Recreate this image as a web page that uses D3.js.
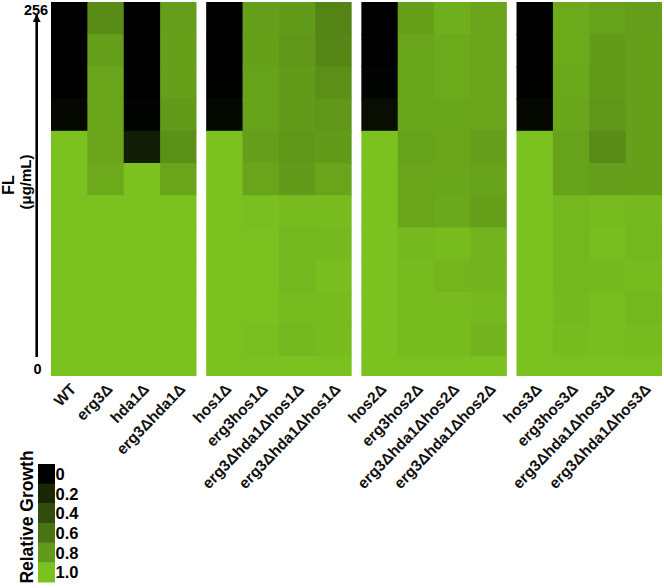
<!DOCTYPE html>
<html>
<head>
<meta charset="utf-8">
<script src="https://cdn.jsdelivr.net/npm/d3@7"></script>
<style>
  html, body { margin: 0; padding: 0; background: #fff; }
  svg { display: block; font-family: "Liberation Sans", Arial, sans-serif; }
</style>
</head>
<body>
<svg id="chart" width="664" height="588"></svg>
<script>
// ---------- data ----------
const concentrations = ["256","128","64","32","16","8","4","2","1","0.5","0.25","0"];
const axisTickLabels = ["256", "0"];
const panelNames = ["hda1", "hos1", "hos2", "hos3"];

const panel1Strains = ["WT", "erg3Δ", "hda1Δ", "erg3Δhda1Δ"];
const panel2Strains = ["hos1Δ", "erg3hos1Δ", "erg3Δhda1Δhos1Δ", "erg3Δhda1Δhos1Δ"];
const panel3Strains = ["hos2Δ", "erg3hos2Δ", "erg3Δhda1Δhos2Δ", "erg3Δhda1Δhos2Δ"];
const panel4Strains = ["hos3Δ", "erg3hos3Δ", "erg3Δhda1Δhos3Δ", "erg3Δhda1Δhos3Δ"];

// relative growth, rows ordered from 256 (top) to 0 (bottom)
const panel1Growth = [
  [0.00, 0.00, 0.00, 0.04, 1.00, 1.00, 1.00, 1.00, 1.00, 1.00, 1.00, 1.00],
  [0.72, 0.82, 0.85, 0.85, 0.85, 0.88, 1.00, 1.00, 1.00, 1.00, 1.00, 1.00],
  [0.00, 0.00, 0.00, 0.02, 0.15, 1.00, 1.00, 1.00, 1.00, 1.00, 1.00, 1.00],
  [0.82, 0.83, 0.83, 0.80, 0.75, 0.85, 1.00, 1.00, 1.00, 1.00, 1.00, 1.00]
];
const panel2Growth = [
  [0.00, 0.00, 0.01, 0.04, 1.00, 1.00, 1.00, 1.00, 1.00, 1.00, 1.00, 1.00],
  [0.82, 0.83, 0.84, 0.84, 0.82, 0.85, 0.99, 1.00, 1.00, 1.00, 0.99, 1.00],
  [0.80, 0.78, 0.80, 0.80, 0.78, 0.80, 0.97, 0.95, 0.95, 0.97, 0.95, 1.00],
  [0.68, 0.70, 0.74, 0.78, 0.80, 0.85, 0.97, 0.96, 0.98, 0.97, 0.97, 1.00]
];
const panel3Growth = [
  [0.00, 0.00, 0.02, 0.07, 1.00, 1.00, 1.00, 1.00, 1.00, 1.00, 1.00, 1.00],
  [0.83, 0.86, 0.86, 0.86, 0.84, 0.85, 0.85, 0.96, 0.97, 0.97, 0.97, 1.00],
  [0.90, 0.88, 0.88, 0.86, 0.85, 0.86, 0.87, 0.97, 0.94, 0.97, 0.97, 1.00],
  [0.85, 0.85, 0.85, 0.85, 0.82, 0.84, 0.83, 0.93, 0.93, 0.96, 0.93, 1.00]
];
const panel4Growth = [
  [0.00, 0.00, 0.01, 0.04, 1.00, 1.00, 1.00, 1.00, 1.00, 1.00, 1.00, 1.00],
  [0.88, 0.88, 0.87, 0.86, 0.84, 0.84, 0.95, 0.95, 0.95, 0.96, 0.97, 1.00],
  [0.84, 0.80, 0.80, 0.78, 0.72, 0.82, 0.97, 0.98, 0.96, 0.98, 0.98, 1.00],
  [0.82, 0.83, 0.83, 0.83, 0.83, 0.83, 0.96, 0.95, 0.97, 0.95, 0.97, 1.00]
];

const legendValues = [0, 0.2, 0.4, 0.6, 0.8, 1.0];
const legendLabels = ["0", "0.2", "0.4", "0.6", "0.8", "1.0"];

const panelStrains = [panel1Strains, panel2Strains, panel3Strains, panel4Strains];
const panelGrowth = [panel1Growth, panel2Growth, panel3Growth, panel4Growth];

// ---------- layout ----------
const svg = d3.select("#chart");
const heatTop = 2, heatBottom = 376;
const rowH = 32.2;

const color = d3.scaleLinear().domain([0, 1]).range(["#000000", "#7bc120"]).interpolate(d3.interpolateRgb);

const xPanel = d3.scaleBand().domain(d3.range(panelNames.length)).range([51, 662]).paddingInner(0.0625).paddingOuter(0);
const yRow = d3.scaleBand().domain(concentrations).range([heatTop, heatTop + rowH * concentrations.length]).padding(0);

svg.append("defs").append("clipPath").attr("id", "heatClip")
  .append("rect").attr("x", 0).attr("y", heatTop).attr("width", 664).attr("height", heatBottom - heatTop);

const cells = [];
panelGrowth.forEach((pg, p) => {
  pg.forEach((col, c) => {
    col.forEach((v, r) => cells.push({p, c, r, v}));
  });
});

const panelsG = svg.append("g").attr("clip-path", "url(#heatClip)");
const xCol = d3.scaleBand().domain(d3.range(4)).range([0, xPanel.bandwidth()]);

panelsG.selectAll("rect.cell").data(cells).join("rect")
  .attr("class", "cell")
  .attr("x", d => xPanel(d.p) + xCol(d.c))
  .attr("y", d => yRow(concentrations[d.r]))
  .attr("width", d => xCol.bandwidth() + (d.c < 3 ? 1 : 0))
  .attr("height", yRow.bandwidth() + 1)
  .attr("fill", d => color(d.v));

// column labels
const labels = [];
panelStrains.forEach((ps, p) => ps.forEach((name, c) => labels.push({p, c, name})));
svg.selectAll("text.strain").data(labels).join("text")
  .attr("class", "strain")
  .attr("transform", d => {
    const x = xPanel(d.p) + xCol(d.c) + xCol.bandwidth() / 2 + 8;
    return `translate(${x},${heatBottom + 14}) rotate(-46)`;
  })
  .attr("text-anchor", "end")
  .attr("font-size", 15.5)
  .attr("font-weight", "bold")
  .attr("fill", "#111")
  .text(d => d.name);

// y axis arrow
const axisX = 36.7;
const yAxisScale = d3.scalePoint().domain(axisTickLabels).range([10, 369]);
svg.append("defs").append("marker")
  .attr("id", "arrow").attr("viewBox", "0 0 10 10").attr("refX", 9).attr("refY", 5)
  .attr("markerWidth", 3.2).attr("markerHeight", 3.2).attr("markerUnits", "strokeWidth")
  .attr("orient", "auto")
  .append("path").attr("d", "M0,0 L10,5 L0,10 Z").attr("fill", "#000");
svg.append("line")
  .attr("x1", axisX).attr("x2", axisX)
  .attr("y1", 357).attr("y2", 15)
  .attr("stroke", "#000").attr("stroke-width", 2.6)
  .attr("marker-end", "url(#arrow)");

svg.selectAll("text.tick").data(axisTickLabels).join("text")
  .attr("class", "tick")
  .attr("x", d => d === "0" ? 37.5 : 36)
  .attr("y", d => yAxisScale(d))
  .attr("dy", "0.35em")
  .attr("text-anchor", "middle")
  .attr("font-size", 14.5).attr("font-weight", "bold")
  .text(d => d);

// y axis title
svg.append("text")
  .attr("transform", "translate(14,185) rotate(-90)")
  .attr("text-anchor", "middle")
  .attr("font-size", 16).attr("font-weight", "bold")
  .text("FL");
svg.append("text")
  .attr("transform", "translate(31,182) rotate(-90)")
  .attr("text-anchor", "middle")
  .attr("font-size", 15).attr("font-weight", "bold")
  .text("(μg/mL)");

// legend
const legY = d3.scaleBand().domain(legendValues).range([464, 582]);
const legG = svg.append("g");
legG.selectAll("rect").data(legendValues).join("rect")
  .attr("x", 38).attr("y", d => legY(d))
  .attr("width", 17).attr("height", legY.bandwidth() + 0.5)
  .attr("fill", d => color(d));
legG.selectAll("text").data(legendValues).join("text")
  .attr("x", 55.5).attr("y", d => legY(d) + legY.bandwidth() / 2)
  .attr("dy", "0.38em")
  .attr("font-size", 16.5).attr("font-weight", "bold")
  .text((d, i) => legendLabels[i]);
svg.append("text")
  .attr("transform", "translate(33,517) rotate(-90)")
  .attr("text-anchor", "middle")
  .attr("font-size", 17.5).attr("font-weight", "bold")
  .text("Relative Growth");
</script>
</body>
</html>
